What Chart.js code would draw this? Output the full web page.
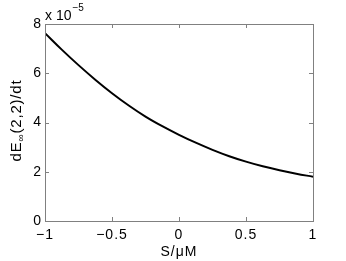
<!DOCTYPE html>
<html><head><meta charset="utf-8">
<script src="https://cdn.jsdelivr.net/npm/chart.js@4/dist/chart.umd.min.js"></script>
<style>html,body{margin:0;padding:0;background:#fff;}#wrap{width:346px;height:261px;}</style>
</head><body><div id="wrap"><canvas id="c" width="346" height="261"></canvas></div>
<script>
const sValues = [-1,-0.875,-0.75,-0.625,-0.5,-0.375,-0.25,-0.125,0,0.125,0.25,0.375,0.5,0.625,0.75,0.875,1];
const rateValues = [7.63,6.96,6.33,5.74,5.19,4.69,4.24,3.85,3.50,3.18,2.89,2.63,2.41,2.22,2.06,1.92,1.80];
const xTicks = [-1,-0.5,0,0.5,1];
const yTicks = [0,2,4,6,8];
const FONT = '"Liberation Sans", Arial, sans-serif';
const AX = '#808080';

const spacing = {
  id:'spacing',
  beforeLayout(chart){ chart.ctx.letterSpacing='1px'; },
  beforeDraw(chart){ chart.ctx.letterSpacing='1px'; }
};

const frame = {
  id:'frame',
  afterDraw(chart){
    const {ctx, chartArea:a, scales:{x,y}} = chart;
    ctx.save();
    ctx.letterSpacing='0px';
    ctx.strokeStyle = AX; ctx.lineWidth = 1;
    ctx.strokeRect(Math.round(a.left)+0.5, Math.round(a.top)+0.5, Math.round(a.right-a.left), Math.round(a.bottom-a.top));
    const L=4;
    ctx.beginPath();
    xTicks.forEach(v=>{const px=Math.round(x.getPixelForValue(v))+0.5;
      ctx.moveTo(px,a.bottom); ctx.lineTo(px,a.bottom-L);
      ctx.moveTo(px,a.top); ctx.lineTo(px,a.top+L);});
    yTicks.forEach(v=>{const py=Math.round(y.getPixelForValue(v))+0.5;
      ctx.moveTo(a.left,py); ctx.lineTo(a.left+L,py);
      ctx.moveTo(a.right,py); ctx.lineTo(a.right-L,py);});
    ctx.stroke();
    // exponent
    ctx.fillStyle='#000';
    ctx.textBaseline='alphabetic'; ctx.textAlign='left';
    ctx.font='14px '+FONT;
    ctx.fillText('x 10', a.left, a.top-4);
    const w = ctx.measureText('x 10').width;
    ctx.font='10px '+FONT;
    ctx.fillText('\u22125', a.left+w+1, a.top-13);
    // y title
    ctx.letterSpacing='0.8px';
    ctx.translate(17, (a.top+a.bottom)/2 - 2);
    ctx.rotate(-Math.PI/2);
    ctx.textBaseline='middle';
    const f1='15px '+FONT, f2='10px '+FONT;
    ctx.font=f1; const p1='dE'; const w1=ctx.measureText(p1).width;
    ctx.font=f2; const p2='\u221E'; const w2=ctx.measureText(p2).width;
    ctx.font=f1; const p3='(2,2)/dt'; const w3=ctx.measureText(p3).width;
    let sx=-(w1+w2+w3)/2;
    ctx.font=f1; ctx.fillText(p1,sx,0); sx+=w1;
    ctx.font=f2; ctx.fillText(p2,sx,4); sx+=w2;
    ctx.font=f1; ctx.fillText(p3,sx,0);
    ctx.restore();
  }
};

new Chart(document.getElementById('c'),{
  type:'line',
  data:{datasets:[{data:sValues.map((s,i)=>({x:s,y:rateValues[i]})),borderColor:'#000',borderWidth:2,pointRadius:0,tension:0.4,fill:false}]},
  options:{
    responsive:false,animation:false,devicePixelRatio:1,
    layout:{padding:{top:24,right:33,left:0,bottom:0}},
    plugins:{legend:{display:false},tooltip:{enabled:false}},
    scales:{
      x:{type:'linear',min:-1,max:1,
        afterBuildTicks(s){s.ticks=xTicks.map(v=>({value:v}));},
        afterFit(s){s.height=40;},
        grid:{display:false,drawTicks:false},border:{display:false},
        ticks:{color:'#000',font:{family:FONT,size:14},padding:6,maxRotation:0,
          callback:v=>String(v).replace('-','\u2212')},
        title:{display:true,text:'S/\u03BCM',color:'#000',font:{family:FONT,size:14},padding:{top:-3,bottom:0}}},
      y:{type:'linear',min:0,max:8,
        afterBuildTicks(s){s.ticks=yTicks.map(v=>({value:v}));},
        afterFit(s){s.width=45;},
        grid:{display:false,drawTicks:false},border:{display:false},
        ticks:{color:'#000',font:{family:FONT,size:14},padding:3}}
    }
  },
  plugins:[spacing, frame]
});
</script></body></html>
